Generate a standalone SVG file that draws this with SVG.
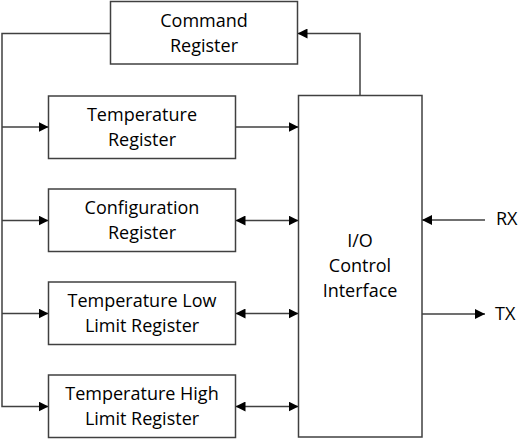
<svg xmlns="http://www.w3.org/2000/svg" width="528" height="442" viewBox="0 0 528 442">
<style>
.box{fill:#fff;stroke:#404040;stroke-width:1.5}
.ln{fill:none;stroke:#404040;stroke-width:1.5}
text{font-family:"Open Sans","Noto Sans",sans-serif;font-size:18px;fill:#000;text-anchor:middle}
</style>
<defs>
<marker id="ah" viewBox="0 0 10 10" refX="10" refY="5" markerWidth="10" markerHeight="10" markerUnits="userSpaceOnUse" orient="auto-start-reverse">
<path d="M0,0 L10,5 L0,10 Z" fill="#000"/>
</marker>
</defs>
<g id="connectors">
<polyline class="ln" points="110.5,33.5 2,33.5 2,406.5 48.5,406.5" marker-end="url(#ah)"/>
<line class="ln" x1="2" y1="127" x2="48.5" y2="127" marker-end="url(#ah)"/>
<line class="ln" x1="2" y1="220.5" x2="48.5" y2="220.5" marker-end="url(#ah)"/>
<line class="ln" x1="2" y1="313.5" x2="48.5" y2="313.5" marker-end="url(#ah)"/>
<polyline class="ln" points="360,95.5 360,33.5 297.5,33.5" marker-end="url(#ah)"/>
<line class="ln" x1="235.5" y1="127" x2="298.5" y2="127" marker-end="url(#ah)"/>
<line class="ln" x1="235.5" y1="220.5" x2="298.5" y2="220.5" marker-start="url(#ah)" marker-end="url(#ah)"/>
<line class="ln" x1="235.5" y1="313.5" x2="298.5" y2="313.5" marker-start="url(#ah)" marker-end="url(#ah)"/>
<line class="ln" x1="235.5" y1="406.5" x2="298.5" y2="406.5" marker-start="url(#ah)" marker-end="url(#ah)"/>
<line class="ln" x1="485" y1="220" x2="422" y2="220" marker-end="url(#ah)"/>
<line class="ln" x1="422" y1="314" x2="485" y2="314" marker-end="url(#ah)"/>
</g>
<g id="command">
<rect class="box" x="110.5" y="1.5" width="187" height="62.5"/>
<text x="204" y="27">Command</text>
<text x="204" y="52">Register</text>
</g>
<g id="temperature">
<rect class="box" x="48.5" y="96" width="187" height="62.5"/>
<text x="142" y="120.7">Temperature</text>
<text x="142" y="145.7">Register</text>
</g>
<g id="configuration">
<rect class="box" x="48.5" y="189" width="187" height="62.5"/>
<text x="142" y="213.7">Configuration</text>
<text x="142" y="238.7">Register</text>
</g>
<g id="lowlimit">
<rect class="box" x="48.5" y="282" width="187" height="62.5"/>
<text x="142" y="306.7">Temperature Low</text>
<text x="142" y="331.7">Limit Register</text>
</g>
<g id="highlimit">
<rect class="box" x="48.5" y="375" width="187" height="62.5"/>
<text x="142" y="400">Temperature High</text>
<text x="142" y="425">Limit Register</text>
</g>
<g id="io">
<rect class="box" x="298.5" y="95.5" width="123.5" height="341.5"/>
<text x="360" y="246.7">I/O</text>
<text x="360" y="272">Control</text>
<text x="360" y="297">Interface</text>
</g>
<g id="rx"><text x="496" y="225" style="text-anchor:start">RX</text></g>
<g id="tx"><text x="495" y="320" style="text-anchor:start">TX</text></g>
</svg>
